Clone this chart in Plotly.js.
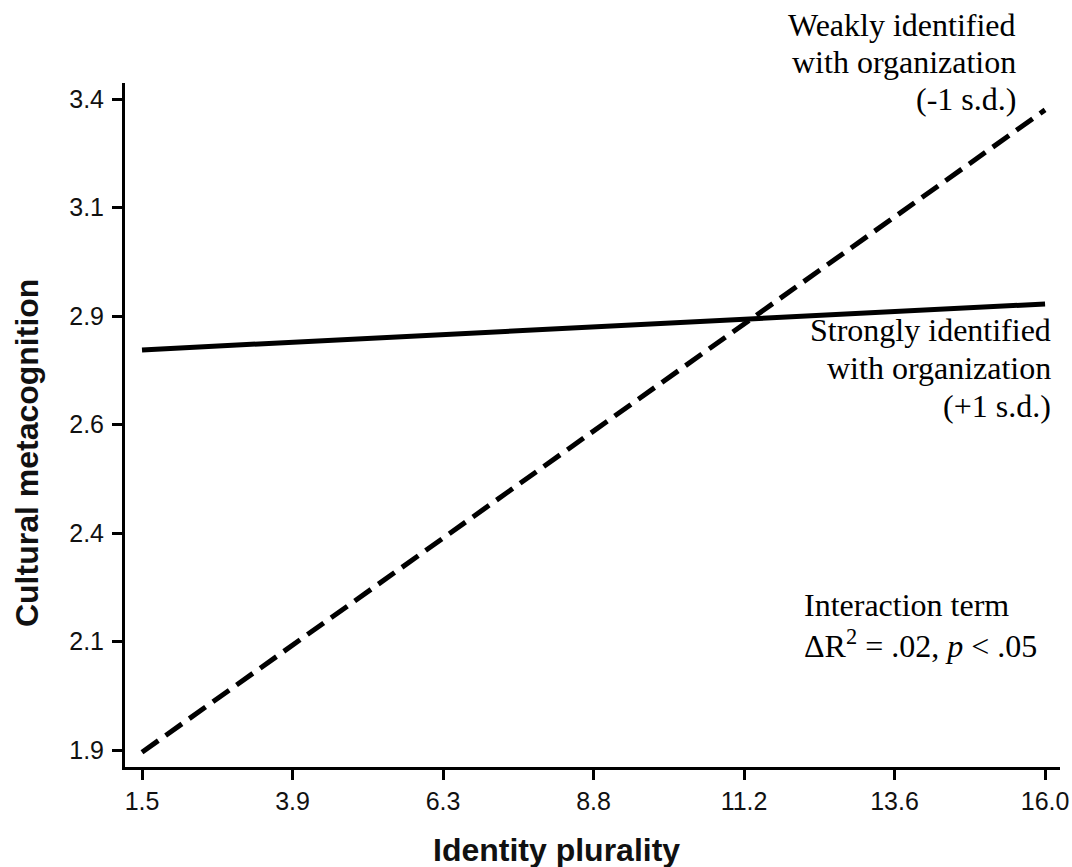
<!DOCTYPE html>
<html>
<head>
<meta charset="utf-8">
<script src="https://cdn.plot.ly/plotly-3.0.1.min.js"></script>
<style>html,body{margin:0;padding:0;background:#fff;}#chart{width:1072px;height:867px;}</style>
</head>
<body>
<div id="chart"></div>
<script>
const xEnds = [1.5, 16.0];
const strongY = [2.822, 2.928];
const weakY = [1.895, 3.375];
const xTickVals = [1.5, 3.9167, 6.3333, 8.75, 11.1667, 13.5833, 16.0];
const xTickText = ['1.5', '3.9', '6.3', '8.8', '11.2', '13.6', '16.0'];
const yTickVals = [1.9, 2.15, 2.4, 2.65, 2.9, 3.15, 3.4];
const yTickText = ['1.9', '2.1', '2.4', '2.6', '2.9', '3.1', '3.4'];
const xTitle = 'Identity plurality';
const yTitle = 'Cultural metacognition';
const weakLabel = ['Weakly identified', 'with organization', '(-1 s.d.)'];
const strongLabel = ['Strongly identified', 'with organization', '(+1 s.d.)'];
const interactionLabel = ['Interaction term', 'ΔR<sup>2</sup> = .02, <i>p</i> &lt; .05'];

const traces = [
  {x: xEnds, y: strongY, mode: 'lines', line: {color: '#000', width: 5}, hoverinfo: 'skip'},
  {x: xEnds, y: weakY, mode: 'lines', line: {color: '#000', width: 5, dash: '20px,9px'}, hoverinfo: 'skip'}
];

const serif = {family: 'Liberation Serif, Times New Roman, serif', size: 32, color: '#000'};
const sans = 'Liberation Sans, Arial, sans-serif';
const annotations = [];
const weakYs = [1.0848, 1.0306, 0.9765];
weakLabel.forEach((t, i) => annotations.push({xref: 'paper', yref: 'paper', x: 0.9551, y: weakYs[i],
  xanchor: 'right', yanchor: 'middle', showarrow: false, font: serif, text: t}));
const strongYs = [0.6389, 0.5833, 0.5277];
strongLabel.forEach((t, i) => annotations.push({xref: 'paper', yref: 'paper', x: 0.9925, y: strongYs[i],
  xanchor: 'right', yanchor: 'middle', showarrow: false, font: serif, text: t}));
const interYs = [0.2368, 0.1798];
interactionLabel.forEach((t, i) => annotations.push({xref: 'paper', yref: 'paper', x: 0.7245, y: interYs[i],
  xanchor: 'left', yanchor: 'middle', showarrow: false, font: serif, text: t}));
annotations.push({xref: 'paper', yref: 'paper', x: 0.461, y: -0.121, xanchor: 'center', yanchor: 'middle',
  showarrow: false, text: '<b>' + xTitle + '</b>', font: {family: sans, size: 32, color: '#111'}});
annotations.push({xref: 'paper', yref: 'paper', x: -0.1048, y: 0.459, xanchor: 'center', yanchor: 'middle',
  textangle: -90, showarrow: false, text: '<b>' + yTitle + '</b>', font: {family: sans, size: 32, color: '#111'}});

const layout = {
  width: 1072, height: 867,
  margin: {l: 125, r: 12, t: 83, b: 100},
  paper_bgcolor: '#fff', plot_bgcolor: '#fff',
  showlegend: false,
  xaxis: {
    range: [1.227, 16.24], tickvals: xTickVals, ticktext: xTickText,
    showline: true, linecolor: '#000', linewidth: 3,
    ticks: 'outside', ticklen: 10, tickwidth: 3, tickcolor: '#000',
    showgrid: false, zeroline: false, automargin: false,
    tickfont: {family: sans, size: 25, color: '#111'}
  },
  yaxis: {
    range: [1.861, 3.437], tickvals: yTickVals, ticktext: yTickText,
    showline: true, linecolor: '#000', linewidth: 3,
    ticks: 'outside', ticklen: 10, tickwidth: 3, tickcolor: '#000',
    showgrid: false, zeroline: false, automargin: false,
    ticklabelstandoff: 3,
    tickfont: {family: sans, size: 25, color: '#111'}
  },
  annotations: annotations
};
Plotly.newPlot('chart', traces, layout, {displayModeBar: false, staticPlot: true});
</script>
</body>
</html>
